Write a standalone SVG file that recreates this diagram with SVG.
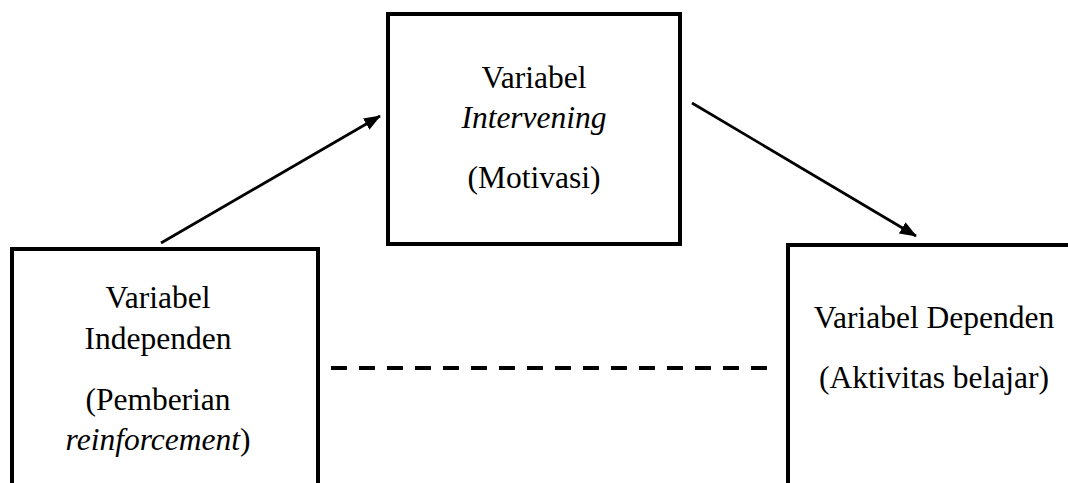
<svg xmlns="http://www.w3.org/2000/svg" width="1068" height="483" viewBox="0 0 1068 483">
<defs>
<marker id="ah" markerWidth="17" markerHeight="13" refX="16" refY="6.5" orient="auto" markerUnits="userSpaceOnUse">
<path d="M0,0 L17,6.5 L0,13 Z" fill="#000"/>
</marker>
<style>
.box{fill:none;stroke:#000;stroke-width:4}
.t{font-family:"Liberation Serif","Times New Roman",serif;font-size:31.5px;fill:#000;text-anchor:middle}
.i{font-style:italic}
.ln{stroke:#000;stroke-width:2.7;fill:none}
.dash{stroke:#000;stroke-width:4;stroke-dasharray:16 12;fill:none}
</style>
</defs>
<rect width="1068" height="483" fill="#fff"/>
<g id="connectors">
<line class="ln" x1="161" y1="243" x2="380" y2="116" marker-end="url(#ah)"/>
<line class="ln" x1="692" y1="103" x2="916" y2="236" marker-end="url(#ah)"/>
<line class="dash" x1="331" y1="368" x2="767" y2="368"/>
</g>
<g id="node-intervening">
<rect class="box" x="388" y="14" width="292" height="230"/>
<text class="t" x="534" y="88">Variabel</text>
<text class="t i" x="534" y="128">Intervening</text>
<text class="t" x="534" y="188">(Motivasi)</text>
</g>
<g id="node-independen">
<path class="box" d="M12,490 V249 H318 V490"/>
<text class="t" x="158" y="308">Variabel</text>
<text class="t" x="158" y="349">Independen</text>
<text class="t" x="158" y="410">(Pemberian</text>
<text class="t" x="158" y="450"><tspan class="i">reinforcement</tspan>)</text>
</g>
<g id="node-dependen">
<path class="box" d="M788,490 V245 H1075"/>
<text class="t" x="934" y="328">Variabel Dependen</text>
<text class="t" x="934" y="388">(Aktivitas belajar)</text>
</g>
</svg>
